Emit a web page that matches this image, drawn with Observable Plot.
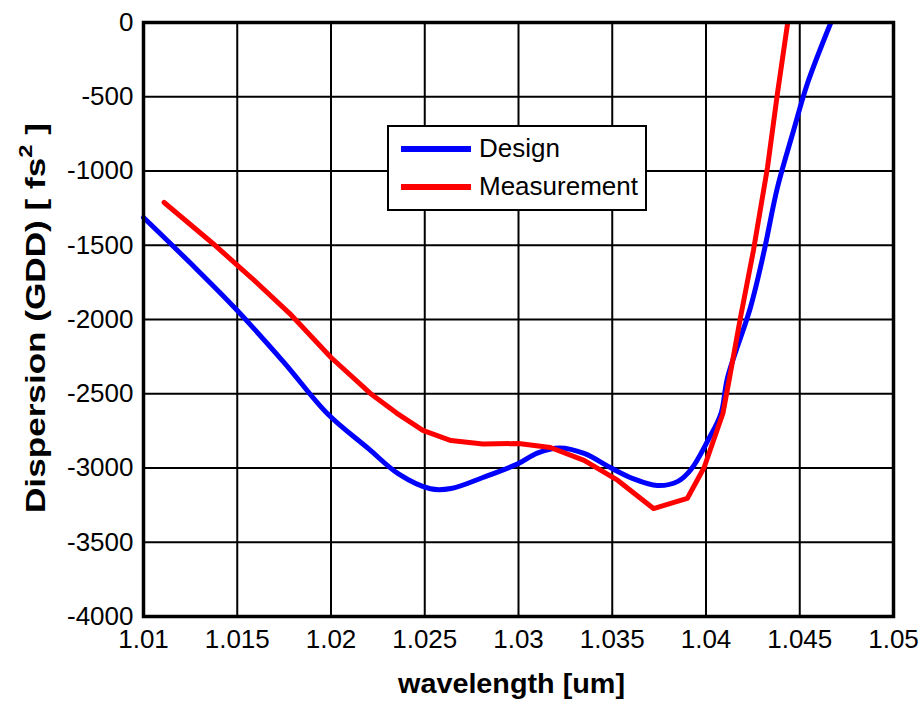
<!DOCTYPE html>
<html>
<head>
<meta charset="utf-8">
<script src="https://cdn.jsdelivr.net/npm/d3@7"></script>
<script src="https://cdn.jsdelivr.net/npm/@observablehq/plot@0.6"></script>
<style>
  html, body { margin: 0; padding: 0; background: #fff; }
  #wrap { position: relative; width: 922px; height: 706px; font-family: "Liberation Sans", Arial, sans-serif; }
  #legend { position: absolute; left: 387px; top: 125px; width: 260px; height: 86px; border: 2px solid #000; background: #fff; box-sizing: border-box; }
  .row { position: absolute; left: 12px; display: flex; align-items: center; font-size: 26px; color: #000; }
  .sw { width: 70px; height: 6px; margin-right: 8px; }
</style>
</head>
<body>
<div id="wrap"></div>
<script>
// Design curve (wavelength [um], GDD [fs^2])
const designWavelength = [1.0100, 1.0125, 1.0149, 1.0175, 1.0198, 1.0220, 1.0236, 1.0253, 1.0264, 1.0281, 1.0300, 1.0310, 1.0322, 1.0335, 1.0349, 1.0361, 1.0374, 1.0385, 1.0392, 1.0401, 1.0408, 1.04115, 1.04237, 1.04307, 1.04381, 1.04467, 1.04541, 1.04664];
const designGDD        = [-1313, -1620, -1926, -2290, -2633, -2870, -3040, -3140, -3138, -3064, -2970, -2900, -2865, -2902, -2997, -3071, -3118, -3090, -3010, -2815, -2633, -2391, -1919, -1556, -1111, -727, -411, -7];

// Measurement curve
const measWavelength = [1.0111, 1.0137, 1.0158, 1.0178, 1.0200, 1.0221, 1.0235, 1.0249, 1.0264, 1.0281, 1.0300, 1.0317, 1.0335, 1.0353, 1.0372, 1.0390, 1.0399, 1.0409, 1.0412, 1.04184, 1.04253, 1.04328, 1.04381, 1.04435];
const measGDD        = [-1212, -1488, -1724, -1960, -2256, -2498, -2630, -2747, -2815, -2838, -2835, -2862, -2949, -3084, -3273, -3205, -2997, -2633, -2431, -1986, -1535, -976, -478, -7];

const xTicks = [1.01, 1.015, 1.02, 1.025, 1.03, 1.035, 1.04, 1.045, 1.05];
const yTicks = [0, -500, -1000, -1500, -2000, -2500, -3000, -3500, -4000];
const seriesNames = ["Design", "Measurement"];
const seriesColors = ["#0000ff", "#ff0000"];

const design = designWavelength.map((w, i) => ({w, v: designGDD[i]}));
const meas = measWavelength.map((w, i) => ({w, v: measGDD[i]}));

const plot = Plot.plot({
  width: 922,
  height: 706,
  marginLeft: 143,
  marginRight: 29,
  marginTop: 22,
  marginBottom: 90,
  style: {fontFamily: '"Liberation Sans", Arial, sans-serif', color: "#000", background: "#fff"},
  x: {domain: [1.01, 1.05]},
  y: {domain: [-4000, 0]},
  marks: [
    Plot.gridX(xTicks, {stroke: "#000", strokeOpacity: 1, strokeWidth: 2}),
    Plot.gridY(yTicks, {stroke: "#000", strokeOpacity: 1, strokeWidth: 2}),
    Plot.axisX(xTicks, {tickSize: 0, tickPadding: 13, fontSize: 26, label: null, tickFormat: d => String(+d.toFixed(3))}),
    Plot.axisY(yTicks, {tickSize: 0, tickPadding: 10, fontSize: 26, label: null, tickFormat: d => String(d)}),
    Plot.line(design, {x: "w", y: "v", stroke: seriesColors[0], strokeWidth: 5, curve: "catmull-rom"}),
    Plot.line(meas, {x: "w", y: "v", stroke: seriesColors[1], strokeWidth: 5, curve: "linear"}),
    Plot.frame({stroke: "#000", strokeWidth: 3.5})
  ]
});

const svg = d3.select(plot);
// y-axis label with superscript
const yl = svg.append("text")
  .attr("transform", "translate(45,318) rotate(-90)")
  .attr("text-anchor", "middle")
  .attr("font-size", 28)
  .attr("font-weight", "bold")
  .attr("fill", "#000")
  .attr("textLength", 390)
  .attr("lengthAdjust", "spacingAndGlyphs");
yl.append("tspan").text("Dispersion (GDD) [ fs");
yl.append("tspan").attr("font-size", 19).attr("dy", -13).text("2");
yl.append("tspan").attr("dy", 13).text(" ]");

svg.append("text")
  .attr("x", 511.5).attr("y", 693)
  .attr("text-anchor", "middle")
  .attr("font-size", 28)
  .attr("font-weight", "bold")
  .attr("fill", "#000")
  .attr("textLength", 227)
  .attr("lengthAdjust", "spacingAndGlyphs")
  .text("wavelength [um]");

const wrap = document.getElementById("wrap");
wrap.appendChild(plot);

const legend = document.createElement("div");
legend.id = "legend";
seriesNames.forEach((name, i) => {
  const row = document.createElement("div");
  row.className = "row";
  row.style.top = (i === 0 ? 6 : 44) + "px";
  const sw = document.createElement("div");
  sw.className = "sw";
  sw.style.background = seriesColors[i];
  const t = document.createElement("span");
  t.textContent = name;
  row.appendChild(sw); row.appendChild(t);
  legend.appendChild(row);
});
wrap.appendChild(legend);
</script>
</body>
</html>
